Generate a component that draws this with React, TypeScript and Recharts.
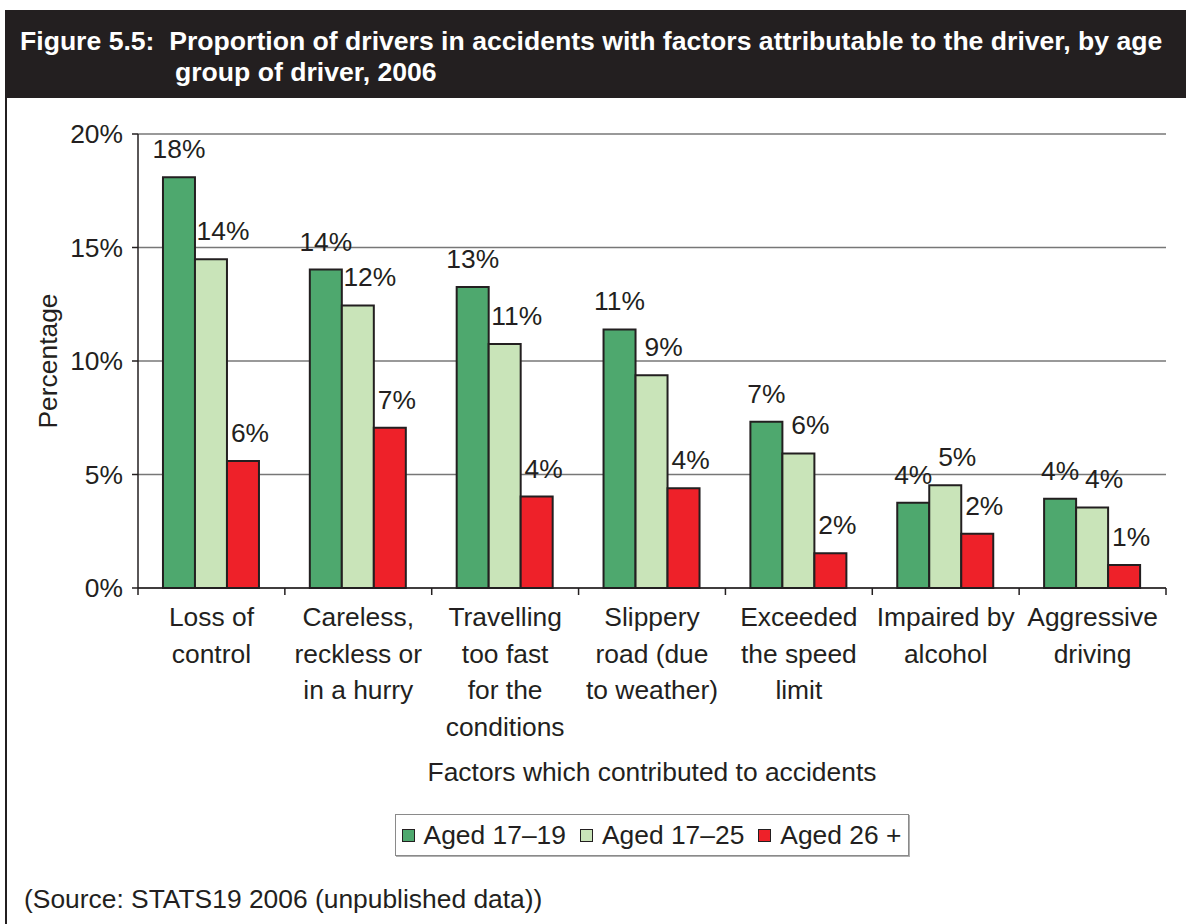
import React from 'react';
import { BarChart, Bar, XAxis, YAxis, CartesianGrid, Legend, LabelList, Label } from 'recharts';

const categories = [
  'Loss of\ncontrol',
  'Careless,\nreckless or\nin a hurry',
  'Travelling\ntoo fast\nfor the\nconditions',
  'Slippery\nroad (due\nto weather)',
  'Exceeded\nthe speed\nlimit',
  'Impaired by\nalcohol',
  'Aggressive\ndriving',
];
const aged1719 = [18.1, 14.03, 13.26, 11.39, 7.32, 3.76, 3.93];
const aged1725 = [14.48, 12.45, 10.75, 9.37, 5.93, 4.53, 3.55];
const aged26plus = [5.59, 7.06, 4.03, 4.39, 1.53, 2.39, 1.01];
const yTicks = [0, 5, 10, 15, 20];
const seriesNames = ['Aged 17–19', 'Aged 17–25', 'Aged 26 +'];

const data = categories.map((name, i) => ({
  name,
  a: aged1719[i],
  b: aged1725[i],
  c: aged26plus[i],
}));

const INK = '#231f20';
const FONT = '"Liberation Sans", Arial, Helvetica, sans-serif';
const FS = 26.4;
const W = 1186;
const H = 924;

const XTick = (props: any) => {
  const { x, y, payload, index } = props;
  const half = payload.offset || 1028 / categories.length / 2;
  const lines = String(payload.value).split('\n');
  return (
    <g>
      <line x1={x - half} x2={x - half} y1={y} y2={y + 7} stroke={INK} strokeWidth={1.5} />
      {index === categories.length - 1 && (
        <line x1={x + half} x2={x + half} y1={y} y2={y + 7} stroke={INK} strokeWidth={1.5} />
      )}
      <text textAnchor="middle" fontSize={FS} fill={INK} fontFamily={FONT}>
        {lines.map((l, i) => (
          <tspan key={i} x={x} y={y + 38 + i * 36.7}>
            {l}
          </tspan>
        ))}
      </text>
    </g>
  );
};

// labels sit a little to the right of each bar, as in the original
const valueLabel = (shift: number) => (props: any) => {
  const { x, y, width, value } = props;
  return (
    <text
      x={x + width / 2 + shift}
      y={y - 28}
      textAnchor="middle"
      dominantBaseline="central"
      fontSize={FS}
      fill={INK}
      fontFamily={FONT}
    >
      {Math.round(value)}%
    </text>
  );
};

const LegendBox = (props: any) => {
  const items = props.payload || [];
  return (
    <div style={{ display: 'flex', justifyContent: 'center' }}>
      <div
        style={{
          display: 'inline-flex',
          alignItems: 'center',
          border: '1px solid #8a8a8a',
          boxShadow: '1px 1px 0 #b0b0b0',
          background: '#fff',
          padding: '4px 7px 4px 6px',
          fontFamily: FONT,
          fontSize: FS,
          color: INK,
          lineHeight: '32px',
        }}
      >
        {items.map((it: any, i: number) => (
          <span key={i} style={{ display: 'inline-flex', alignItems: 'center', marginLeft: i === 0 ? 0 : 14 }}>
            <span
              style={{
                width: 11,
                height: 11,
                background: it.color,
                border: `1px solid ${INK}`,
                display: 'inline-block',
                marginRight: 9,
              }}
            />
            {it.value}
          </span>
        ))}
      </div>
    </div>
  );
};

export default function App() {
  return (
    <div style={{ position: 'absolute', left: 0, top: 0, width: W, height: H, background: '#fff', fontFamily: FONT, overflow: 'hidden' }}>
      <div style={{ position: 'absolute', left: 5, top: 10, width: 2, height: H - 10, background: INK }} />
      <div
        style={{
          position: 'absolute',
          left: 5,
          top: 10,
          width: W - 5,
          height: 88,
          background: INK,
          color: '#fff',
          fontWeight: 'bold',
          fontSize: 26.6,
          lineHeight: '31px',
        }}
      >
        <div style={{ position: 'absolute', left: 15, top: 16, whiteSpace: 'nowrap' }}>
          Figure 5.5:&nbsp; Proportion of drivers in accidents with factors attributable to the driver, by age
        </div>
        <div style={{ position: 'absolute', left: 170, top: 47, whiteSpace: 'nowrap' }}>group of driver, 2006</div>
      </div>

      <div style={{ position: 'absolute', left: 0, top: 0 }}>
        <BarChart
          width={W}
          height={H}
          data={data}
          margin={{ top: 134, right: 20, bottom: 136, left: 78 }}
          barCategoryGap="17%"
          barGap={0}
        >
          <CartesianGrid vertical={false} stroke="#777" strokeWidth={1.5} />
          <XAxis
            dataKey="name"
            interval={0}
            tickLine={false}
            tickSize={0}
            tickMargin={0}
            axisLine={{ stroke: INK, strokeWidth: 1.5 }}
            height={200}
            tick={<XTick />}
          >
            <Label
              content={(p: any) => {
                const vb = p.viewBox;
                return (
                  <text
                    x={vb.x + vb.width / 2}
                    y={vb.y + 184}
                    textAnchor="middle"
                    dominantBaseline="central"
                    fontSize={FS}
                    fill={INK}
                    fontFamily={FONT}
                  >
                    Factors which contributed to accidents
                  </text>
                );
              }}
            />
          </XAxis>
          <YAxis
            domain={[0, 20]}
            ticks={yTicks}
            tickFormatter={(v: number) => `${v}%`}
            tick={{ fontSize: FS, fill: INK, fontFamily: FONT }}
            tickSize={6}
            tickMargin={9}
            axisLine={{ stroke: INK, strokeWidth: 1.5 }}
            tickLine={{ stroke: INK, strokeWidth: 1.5 }}
            width={60}
          >
            <Label
              content={(p: any) => {
                const vb = p.viewBox;
                const cx = vb.x - 30;
                const cy = vb.y + vb.height / 2;
                return (
                  <text
                    x={cx}
                    y={cy}
                    transform={`rotate(-90 ${cx} ${cy})`}
                    textAnchor="middle"
                    dominantBaseline="central"
                    fontSize={FS}
                    fill={INK}
                    fontFamily={FONT}
                  >
                    Percentage
                  </text>
                );
              }}
            />
          </YAxis>
          <YAxis
            yAxisId="right"
            orientation="right"
            domain={[0, 20]}
            width={0}
            tick={false}
            tickLine={false}
            axisLine={{ stroke: '#999', strokeWidth: 2 }}
          />
          <Legend
            layout="horizontal"
            verticalAlign="middle"
            align="center"
            content={<LegendBox />}
            wrapperStyle={{ position: 'absolute', left: 138, top: 814, width: 1028 }}
          />
          <Bar dataKey="a" name={seriesNames[0]} fill="#4ea86e" stroke={INK} strokeWidth={2} isAnimationActive={false}>
            <LabelList dataKey="a" content={valueLabel(0)} />
          </Bar>
          <Bar dataKey="b" name={seriesNames[1]} fill="#c9e4b9" stroke={INK} strokeWidth={2} isAnimationActive={false}>
            <LabelList dataKey="b" content={valueLabel(12)} />
          </Bar>
          <Bar dataKey="c" name={seriesNames[2]} fill="#ee2129" stroke={INK} strokeWidth={2} isAnimationActive={false}>
            <LabelList dataKey="c" content={valueLabel(7)} />
          </Bar>
        </BarChart>
      </div>

      <div style={{ position: 'absolute', left: 24, top: 883, fontSize: FS, color: INK, whiteSpace: 'nowrap', lineHeight: '32px' }}>
        (Source: STATS19 2006 (unpublished data))
      </div>
    </div>
  );
}
